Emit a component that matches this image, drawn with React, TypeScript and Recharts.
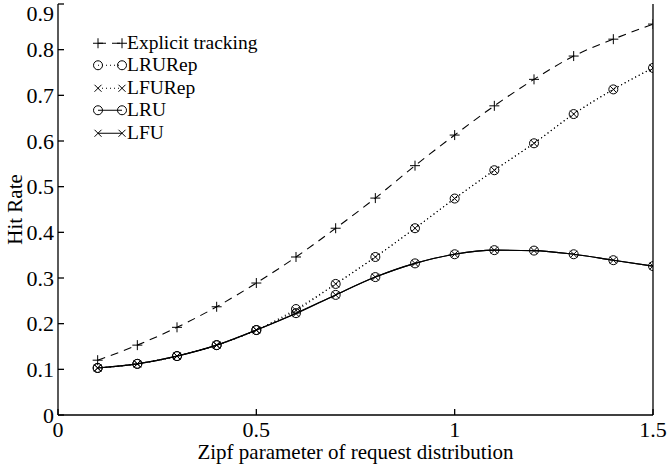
import React from 'react';
import { LineChart, Line, XAxis, YAxis, Legend } from 'recharts';

// Zipf parameter values (x)
const zipf = [0.1, 0.2, 0.3, 0.4, 0.5, 0.6, 0.7, 0.8, 0.9, 1.0, 1.1, 1.2, 1.3, 1.4, 1.5];

// hit rates
const explicitTracking = [0.12, 0.153, 0.192, 0.237, 0.289, 0.346, 0.409, 0.475, 0.546, 0.613, 0.677, 0.735, 0.786, 0.823, 0.856];
const lruRep = [0.103, 0.112, 0.129, 0.153, 0.186, 0.232, 0.287, 0.346, 0.409, 0.474, 0.536, 0.595, 0.659, 0.713, 0.76];
const lfuRep = [0.103, 0.112, 0.129, 0.153, 0.186, 0.229, 0.287, 0.346, 0.409, 0.474, 0.536, 0.595, 0.659, 0.713, 0.76];
const lru = [0.103, 0.112, 0.129, 0.153, 0.186, 0.223, 0.263, 0.302, 0.332, 0.352, 0.361, 0.36, 0.352, 0.339, 0.326];
const lfu = [0.103, 0.112, 0.129, 0.153, 0.186, 0.222, 0.263, 0.302, 0.332, 0.352, 0.361, 0.36, 0.352, 0.339, 0.326];

const xTicks = [0, 0.5, 1, 1.5];
const yTicks = [0, 0.1, 0.2, 0.3, 0.4, 0.5, 0.6, 0.7, 0.8, 0.9];

const data = zipf.map((z, i) => ({
  z,
  explicit: explicitTracking[i],
  lruRep: lruRep[i],
  lfuRep: lfuRep[i],
  lru: lru[i],
  lfu: lfu[i],
}));

const FONT = '"Liberation Serif", "DejaVu Serif", serif';

type Shape = 'plus' | 'circle' | 'cross';

const series: { key: string; name: string; dash?: string; shape: Shape }[] = [
  { key: 'explicit', name: 'Explicit tracking', dash: '8 6', shape: 'plus' },
  { key: 'lruRep', name: 'LRURep', dash: '1 3', shape: 'circle' },
  { key: 'lfuRep', name: 'LFURep', dash: '1 3', shape: 'cross' },
  { key: 'lru', name: 'LRU', shape: 'circle' },
  { key: 'lfu', name: 'LFU', shape: 'cross' },
];

function Marker({ cx, cy, shape }: { cx: number; cy: number; shape: Shape }) {
  if (shape === 'plus') {
    return <path d={`M${cx - 5},${cy}h10M${cx},${cy - 5}v10`} stroke="#000" strokeWidth={1} fill="none" />;
  }
  if (shape === 'circle') {
    return <circle cx={cx} cy={cy} r={4.5} stroke="#000" strokeWidth={1} fill="none" />;
  }
  return (
    <path
      d={`M${cx - 3.5},${cy - 3.5}l7,7M${cx - 3.5},${cy + 3.5}l7,-7`}
      stroke="#000"
      strokeWidth={1}
      fill="none"
    />
  );
}

function makeDot(shape: Shape) {
  return (props: any) => {
    const { cx, cy, index } = props;
    if (cx == null || cy == null) return <g key={index} />;
    return (
      <g key={index}>
        <Marker cx={cx} cy={cy} shape={shape} />
      </g>
    );
  };
}

const ROW = 22.5;

function LegendBox() {
  return (
    <div style={{ fontFamily: FONT, fontSize: 19.5, color: '#000', lineHeight: `${ROW}px` }}>
      {series.map((s) => (
        <div key={s.key} style={{ display: 'flex', alignItems: 'center', height: ROW }}>
          <svg width={34} height={ROW} style={{ display: 'block' }}>
            <line x1={5} x2={29} y1={ROW / 2} y2={ROW / 2} stroke="#000" strokeWidth={1} strokeDasharray={s.dash} />
            <Marker cx={5} cy={ROW / 2} shape={s.shape} />
            <Marker cx={29} cy={ROW / 2} shape={s.shape} />
          </svg>
          <div style={{ whiteSpace: 'nowrap' }}>{s.name}</div>
        </div>
      ))}
    </div>
  );
}

function YLabel(props: any) {
  const vb = props.viewBox || {};
  const x = 22;
  const y = vb.y + vb.height / 2;
  return (
    <text x={x} y={y} transform={`rotate(-90 ${x} ${y})`} textAnchor="middle" fontFamily={FONT} fontSize={21} fill="#000">
      Hit Rate
    </text>
  );
}

const tickStyle = { fontFamily: FONT, fontSize: 22, fill: '#000' };
const labelStyle = { fontFamily: FONT, fontSize: 21, fill: '#000' };

export default function App() {
  return (
    <div style={{ position: 'absolute', left: 0, top: 0, width: 668, height: 469, background: '#fff' }}>
      <LineChart width={668} height={469} data={data} margin={{ top: 4, right: 0, bottom: 0, left: 0 }}>
        <XAxis
          dataKey="z"
          type="number"
          domain={[0, 1.5]}
          ticks={xTicks}
          height={54}
          tickSize={-6}
          tickMargin={12}
          tick={tickStyle}
          stroke="#000"
          strokeWidth={1.3}
          allowDataOverflow
          label={{ value: 'Zipf parameter of request distribution', position: 'insideBottom', offset: 10, style: labelStyle }}
        />
        <XAxis
          xAxisId="top"
          dataKey="z"
          type="number"
          orientation="top"
          domain={[0, 1.5]}
          ticks={xTicks}
          height={0}
          tickSize={-6}
          tick={false}
          stroke="#000"
          strokeWidth={1.3}
        />
        <YAxis
          type="number"
          domain={[0, 0.9]}
          ticks={yTicks}
          width={58}
          tickSize={-6}
          tickMargin={10}
          tick={tickStyle}
          stroke="#000"
          strokeWidth={1.3}
          tickFormatter={(v: number) => String(+v.toFixed(1))}
          label={{ content: <YLabel /> }}
        />
        <YAxis
          yAxisId="right"
          orientation="right"
          type="number"
          domain={[0, 0.9]}
          ticks={yTicks}
          width={15}
          tickSize={-6}
          tick={false}
          stroke="#000"
          strokeWidth={1.3}
        />
        <Legend
          layout="horizontal"
          verticalAlign="middle"
          align="center"
          content={() => <LegendBox />}
          wrapperStyle={{ position: 'absolute', left: 93, top: 31.75, width: 'auto', height: 'auto' }}
        />
        {series.map((s) => (
          <Line
            key={s.key}
            dataKey={s.key}
            name={s.name}
            type="monotone"
            stroke="#000"
            strokeWidth={1.1}
            strokeDasharray={s.dash}
            dot={makeDot(s.shape)}
            activeDot={false}
            isAnimationActive={false}
          />
        ))}
      </LineChart>
    </div>
  );
}
